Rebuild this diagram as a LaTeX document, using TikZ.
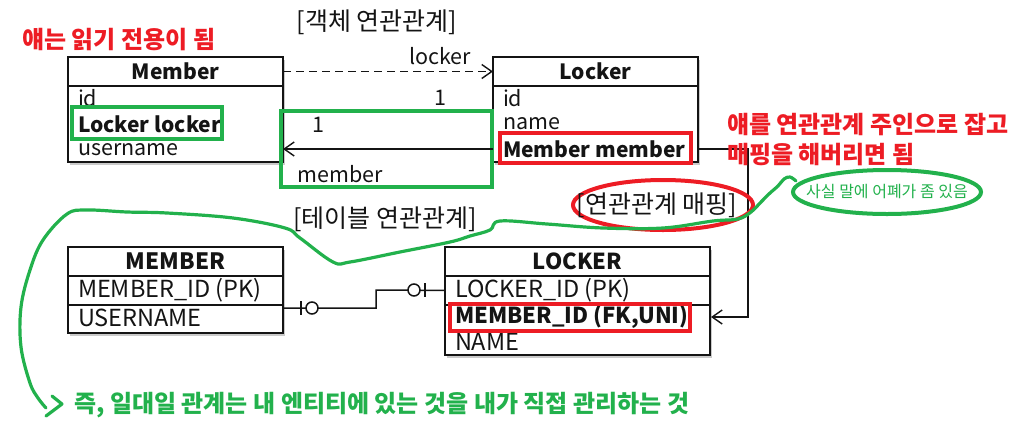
\documentclass[tikz,border=0pt]{standalone}
\usepackage{fontspec}
\setmainfont{Noto Sans CJK KR}
\usetikzlibrary{arrows.meta,shadows,shapes.geometric,calc}
\definecolor{pgreen}{RGB}{34,177,76}
\definecolor{pred}{RGB}{237,28,36}
\definecolor{ink}{RGB}{20,20,20}
\tikzset{
  every node/.style={inner sep=0pt, outer sep=0pt, text=ink},
  boxshadow/.style={drop shadow={shadow xshift=2pt, shadow yshift=-3pt, opacity=0.35, fill=black!60}},
  hdr/.style={draw=ink, line width=1.8pt, fill=white, boxshadow, anchor=north west, font=\fontsize{21}{21}\selectfont\bfseries},
  bodybox/.style={draw=ink, line width=1.8pt, fill=white, boxshadow, anchor=north west},
  field/.style={anchor=west, font=\fontsize{21.5}{21.5}\selectfont},
  capfield/.style={anchor=west, font=\fontsize{23.5}{23.5}\selectfont},
  bfield/.style={anchor=west, font=\fontsize{21}{21}\selectfont\bfseries},
  conn/.style={draw=ink, line width=1.4pt, -{Straight Barb[length=10pt,width=14pt,line width=1.4pt]}},
  erline/.style={draw=ink, line width=1.5pt},
  gbox/.style={draw=pgreen, line width=4pt},
  rbox/.style={draw=pred, line width=4pt},
  title/.style={font=\fontsize{25}{25}\selectfont},
  rednote/.style={anchor=west, text=pred, font=\fontsize{24}{24}\selectfont\bfseries},
  squiggle/.style={pgreen, line width=3.2pt, line cap=round, line join=round},
}
\begin{document}
\begin{tikzpicture}[x=1pt,y=-1pt]
\useasboundingbox (0,0) rectangle (1010,424);

% ---------- object association ----------
\node[title] (objTitle) at (377,22) {[객체 연관관계]};
\node[rednote] (readOnly) at (22,40) {얘는 읽기 전용이 됨};

\node[hdr, minimum width=215pt, minimum height=29pt] (memberH) at (68,57) {Member};
\node[bodybox, minimum width=215pt, minimum height=76pt] (memberB) at (68,86) {};
\node[field] (mId) at (78,98) {id};
\node[bfield] (mLocker) at (78,124) {Locker locker};
\node[field] (mUser) at (78,150) {username};

\node[hdr, minimum width=205pt, minimum height=29pt] (lockerH) at (493,57) {Locker};
\node[bodybox, minimum width=205pt, minimum height=76pt] (lockerB) at (493,86) {};
\node[field] (lId) at (503,98) {id};
\node[field] (lName) at (503,124) {name};
\node[bfield] (lMember) at (503,149) {Member member};

% highlight boxes
\draw[gbox] (72,107) rectangle (222,139);
\draw[gbox] (281,111) rectangle (492,187);
\draw[rbox] (500,133) rectangle (691,163);

% connectors
\draw[conn, dash pattern=on 8pt off 5pt] (memberH.east) -- (lockerH.west);
\node[field, anchor=center] (lblLocker) at (440,56) {locker};
\node[field, anchor=center] (lblOne1) at (440,98) {1};
\draw[conn] (lockerB.west |- lMember) -- (memberB.east |- lMember);
\node[field, anchor=center] (lblOne2) at (318,125) {1};
\node[field, anchor=center] (lblMember) at (340,174) {member};

% ---------- table association ----------
\node[title] (tblTitle) at (385,219) {[테이블 연관관계]};

\node[hdr, minimum width=215pt, minimum height=29pt, font=\fontsize{22.5}{22.5}\selectfont\bfseries] (MEMBERh) at (68,247) {MEMBER};
\node[bodybox, minimum width=215pt, minimum height=29pt] (MEMBERr1) at (68,276) {};
\node[bodybox, minimum width=215pt, minimum height=28pt] (MEMBERr2) at (68,305) {};
\node[capfield] (MId) at (78,290) {MEMBER\_ID (PK)};
\node[capfield] (MName) at (78,318) {USERNAME};

\node[hdr, minimum width=265pt, minimum height=29pt, font=\fontsize{22}{22}\selectfont\bfseries] (LOCKERh) at (445,247) {LOCKER};
\node[bodybox, minimum width=265pt, minimum height=29pt] (LOCKERr1) at (445,276) {};
\node[bodybox, minimum width=265pt, minimum height=50pt] (LOCKERr2) at (445,305) {};
\node[capfield] (LId) at (455,290) {LOCKER\_ID (PK)};
\node[bfield, font=\fontsize{22}{22}\selectfont\bfseries] (LMemberId) at (455,317) {MEMBER\_ID (FK,UNI)};
\node[capfield] (LName) at (455,342) {NAME};
\draw[rbox] (450,304) rectangle (690,331);

% ER connector with zero-or-one marks
\draw[erline] ($(MEMBERr2.north east)+(0,3)$) -- (376,308) -- (376,290) -- (LOCKERr1.west);
\draw[erline] (301,301) -- (301,315);
\draw[erline, fill=white] (312,308) circle [radius=6pt];
\draw[erline, fill=white] (414,290) circle [radius=6pt];
\draw[erline] (425,283) -- (425,297);

% mapping connector
\draw[conn, shorten >=1pt] (lockerB.east |- lMember) -- (748,149) |- (LOCKERr2.east |- LMemberId);

% ---------- annotations ----------
\node[ellipse, draw=pred, line width=4pt, minimum width=180pt, minimum height=50pt] (mapEll) at (663,205) {};
\node[title] (mapText) at (657,205) {[연관관계 매핑]};

\node[rednote] (owner1) at (727,125) {얘를 연관관계 주인으로 잡고};
\node[rednote] (owner2) at (727,155) {매핑을 해버리면 됨};

\node[ellipse, draw=pgreen, line width=4pt, minimum width=188pt, minimum height=44pt] (note) at (887,192) {};
\node[text=pgreen, font=\fontsize{16}{16}\selectfont] (noteText) at (887,192) {사실 말에 어폐가 좀 있음};

\draw[squiggle]
  plot[smooth, tension=0.6] coordinates {(796,181) (790,177) (784,179) (778,186) (770,193) (761,202) (751,212) (738,219) (713,221) (663,228) (603,228) (547,224) (500,221) (490,230) (470,236) (450,242) (400,252) (350,262) (333,262) (300,238) (285,228) (233,218) (167,213) (127,212) (87,210) (67,214) (43,240) (30,270) (21,307) (21,347) (30,383) (38,398) (46,408)};
\draw[squiggle] (52,396) -- (62,404) -- (46,416);

\node[anchor=west, text=pgreen, font=\fontsize{24}{24}\selectfont\bfseries] (summary) at (74,405) {즉, 일대일 관계는 내 엔티티에 있는 것을 내가 직접 관리하는 것};
\end{tikzpicture}
\end{document}
